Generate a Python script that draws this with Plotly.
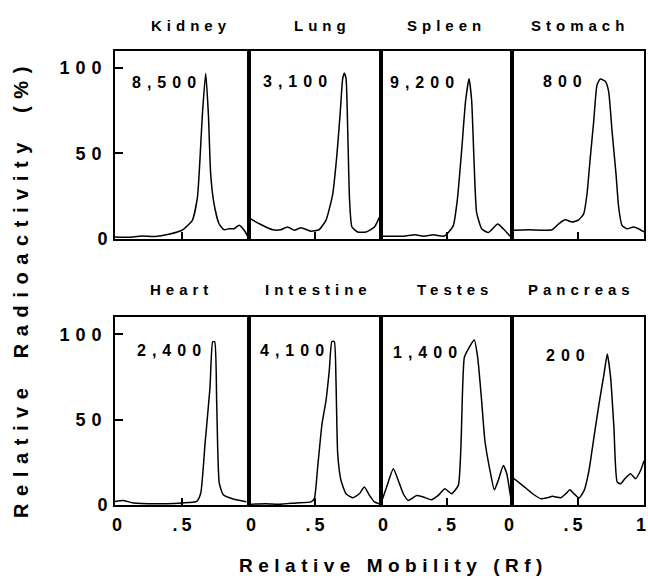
import plotly.graph_objects as go
from plotly.subplots import make_subplots

# ---------------- data ----------------
ORGANS = ["Kidney", "Lung", "Spleen", "Stomach", "Heart", "Intestine", "Testes", "Pancreas"]
COUNTS = ["8,500", "3,100", "9,200", "800", "2,400", "4,100", "1,400", "200"]

kidney_rf = [0, 0.1, 0.2, 0.3, 0.4, 0.5, 0.577, 0.615, 0.632, 0.652, 0.677, 0.697, 0.714, 0.739, 0.776, 0.814, 0.85, 0.889, 0.926, 0.964, 1.0]
kidney_pct = [1, 0.8, 1.5, 1.2, 2.5, 4.9, 10.7, 24, 43.6, 72.7, 96.9, 72.7, 37.8, 20.3, 8.7, 5.2, 5.8, 5.8, 7.8, 4.9, 0]

lung_rf = [0, 0.078, 0.18, 0.24, 0.293, 0.343, 0.394, 0.47, 0.53, 0.583, 0.634, 0.664, 0.69, 0.71, 0.722, 0.735, 0.748, 0.762, 0.78, 0.823, 0.886, 0.95, 0.99, 1.0]
lung_pct = [12.2, 8.7, 5.2, 5.2, 6.8, 4.9, 6.4, 4.3, 5.2, 10.7, 26, 47.5, 72.7, 94, 97, 94, 63, 22.3, 6.8, 3.9, 3.9, 6.8, 12.8, 14.7]

spleen_rf = [0, 0.17, 0.26, 0.325, 0.4, 0.48, 0.514, 0.552, 0.583, 0.616, 0.646, 0.672, 0.692, 0.71, 0.73, 0.77, 0.82, 0.891, 0.935, 0.985]
spleen_pct = [1.4, 1.4, 2.2, 1.4, 2.2, 1.4, 3.6, 7.6, 23, 52, 81, 93.8, 81, 46, 15.3, 5.6, 3.6, 8.5, 5.6, 1.4]

stomach_rf = [0, 0.126, 0.303, 0.354, 0.404, 0.455, 0.505, 0.543, 0.568, 0.593, 0.619, 0.644, 0.669, 0.707, 0.732, 0.758, 0.788, 0.808, 0.833, 0.871, 0.922, 0.972, 1.0]
stomach_pct = [4.9, 5.2, 5.2, 8.7, 11, 9.7, 11, 14.5, 26, 47.5, 68.8, 90.1, 93.6, 92.2, 86.3, 63, 37.8, 18.4, 7.8, 5.8, 6.8, 5.2, 3.9]

heart_rf = [0, 0.06, 0.137, 0.386, 0.5, 0.61, 0.64, 0.672, 0.709, 0.729, 0.744, 0.759, 0.778, 0.808, 0.883, 0.98]
heart_pct = [2.1, 2.7, 1.2, 0.8, 1.2, 2.1, 7, 36, 69, 95.7, 95.7, 59.6, 12.9, 6, 3.5, 1.9]

intestine_rf = [0, 0.13, 0.23, 0.356, 0.47, 0.495, 0.52, 0.553, 0.583, 0.608, 0.628, 0.646, 0.659, 0.672, 0.697, 0.735, 0.785, 0.836, 0.874, 0.912, 0.95, 1.0]
intestine_pct = [0.4, 0.8, 0.4, 1.2, 1.8, 3.7, 22, 47.5, 61, 78.7, 95.9, 95.9, 72.9, 30, 14.4, 6.6, 4.3, 6.6, 10.5, 5.7, 1.8, 0.4]

testes_rf = [0, 0.043, 0.094, 0.132, 0.17, 0.208, 0.272, 0.323, 0.386, 0.437, 0.488, 0.539, 0.59, 0.61, 0.636, 0.666, 0.712, 0.738, 0.768, 0.793, 0.832, 0.865, 0.895, 0.934, 0.96, 0.997]
testes_pct = [0.8, 10.5, 21.2, 14.4, 6.6, 2.7, 5.6, 4.7, 3.1, 5.6, 9.5, 6.6, 11.5, 33.9, 86.5, 91.4, 96.7, 86.5, 61.2, 37.8, 20.2, 8.9, 14.4, 23.2, 18.3, 0.8]

pancreas_rf = [0, 0.08, 0.156, 0.219, 0.269, 0.307, 0.37, 0.408, 0.438, 0.47, 0.508, 0.546, 0.583, 0.621, 0.659, 0.697, 0.722, 0.747, 0.772, 0.797, 0.823, 0.855, 0.898, 0.936, 0.974, 1.0]
pancreas_pct = [16.4, 11.5, 6.6, 3.7, 4.3, 5.1, 4.3, 6.6, 8.9, 6.6, 4.1, 8.4, 20.2, 39.8, 59.2, 76.8, 88.5, 74.8, 45.6, 13.4, 12.5, 15.4, 18.3, 15.4, 20.2, 26]

SERIES_RF = [kidney_rf, lung_rf, spleen_rf, stomach_rf, heart_rf, intestine_rf, testes_rf, pancreas_rf]
SERIES_PCT = [kidney_pct, lung_pct, spleen_pct, stomach_pct, heart_pct, intestine_pct, testes_pct, pancreas_pct]

Y_TICK_VALS = [0, 50, 100]
Y_TICK_TEXT = ["0", "50", "100"]
X_TICK_VALS = [0, 0.5, 1]
X_TICK_TEXT = ["0", ".5", "1"]

Y_TITLE = "Relative Radioactivity (%)"
X_TITLE = "Relative Mobility (Rf)"

# ---------------- layout helpers ----------------
FONT = "Liberation Sans, Arial, Helvetica, sans-serif"
W, H = 648, 584
ML, MR, MT, MB = 115, 4, 51, 79
PW, PH = W - ML - MR, H - MT - MB
COL_EDGES_PX = [115, 249, 381, 512, 644]
COUNT_POS = [(0.114, 91.3), (0.091, 92.3), (0.056, 91.7), (0.217, 92.3),
             (0.149, 90.7), (0.066, 90.3), (0.079, 89.4), (0.242, 87.4)]
TITLE_CX_PX = [188, 320, 444, 577.5, 178.5, 316, 452, 579]
TITLE_CY_PX = [25, 289]


def sp(s, ls, ws=None):
    if len(s) == 1 and ws is None:
        return f"<b>{s}</b>"
    style = f"letter-spacing:{ls}px"
    if ws is not None:
        style += f";word-spacing:{ws}px"
    return f'<b><span style="{style}">{s}</span></b>'


def px_to_paper_x(px):
    return (px - ML) / PW


def px_to_paper_y(py):
    return (H - MB - py) / PH


fig = make_subplots(rows=2, cols=4, horizontal_spacing=0, vertical_spacing=0.1735)

for i in range(8):
    r, c = i // 4 + 1, i % 4 + 1
    fig.add_trace(go.Scatter(x=SERIES_RF[i], y=SERIES_PCT[i], mode="lines",
                             line=dict(color="black", width=1.5, shape="spline", smoothing=0.5),
                             hoverinfo="skip", showlegend=False), row=r, col=c)

tickfont = dict(family=FONT, size=18, color="black", weight="bold")

for i in range(8):
    r, c = i // 4 + 1, i % 4 + 1
    n = "" if i == 0 else str(i + 1)
    dom = [px_to_paper_x(COL_EDGES_PX[c - 1]), px_to_paper_x(COL_EDGES_PX[c])]
    nt = 3 if c == 4 else 2
    fig.layout["xaxis" + n].update(
        domain=dom, range=[0, 1], showline=True, mirror=True, linecolor="black", linewidth=1.6,
        showgrid=False, zeroline=False, ticks="inside", ticklen=7, tickwidth=1.5, tickcolor="black",
        tickvals=X_TICK_VALS[:nt], ticktext=[sp(t, 4) for t in X_TICK_TEXT[:nt]],
        showticklabels=(r == 2), tickfont=tickfont, automargin=False, fixedrange=True,
        ticklabeloverflow="allow", ticklabelstandoff=3,
        ticklabelshift=(-3 if c == 4 else 2))
    yax = dict(range=[0, 110], showline=True, mirror=True, linecolor="black", linewidth=1.6,
               showgrid=False, zeroline=False, automargin=False, fixedrange=True)
    if c == 1:
        yax.update(ticks="inside", ticklen=8, tickwidth=1.5, tickcolor="black",
                   tickvals=Y_TICK_VALS, ticktext=[sp(t, 6) for t in Y_TICK_TEXT],
                   tickfont=tickfont, showticklabels=True, ticklabelstandoff=2)
    else:
        yax.update(ticks="", showticklabels=False)
    fig.layout["yaxis" + n].update(**yax)

annotations = []
for i in range(8):
    r = i // 4
    n = "" if i == 0 else str(i + 1)
    annotations.append(dict(
        text=sp(ORGANS[i], 5), xref="paper", yref="paper",
        x=px_to_paper_x(TITLE_CX_PX[i] + 2.5), y=px_to_paper_y(TITLE_CY_PX[r]),
        xanchor="center", yanchor="middle", showarrow=False,
        font=dict(family=FONT, size=15, color="black", weight="bold")))
    annotations.append(dict(
        text=sp(COUNTS[i], 6), xref="x" + n, yref="y" + n,
        x=COUNT_POS[i][0], y=COUNT_POS[i][1], xanchor="left", yanchor="middle", showarrow=False,
        font=dict(family=FONT, size=16, color="black", weight="bold")))

annotations.append(dict(
    text=sp(Y_TITLE, 7.6, 9), xref="paper", yref="paper",
    x=px_to_paper_x(21), y=px_to_paper_y(289), textangle=-90,
    xanchor="center", yanchor="middle", showarrow=False,
    font=dict(family=FONT, size=20, color="black", weight="bold")))
annotations.append(dict(
    text=sp(X_TITLE, 5.5), xref="paper", yref="paper",
    x=px_to_paper_x(393.5), y=px_to_paper_y(565),
    xanchor="center", yanchor="middle", showarrow=False,
    font=dict(family=FONT, size=19, color="black", weight="bold")))

fig.update_layout(
    template="none", width=W, height=H,
    margin=dict(l=ML, r=MR, t=MT, b=MB, autoexpand=False),
    paper_bgcolor="white", plot_bgcolor="white", showlegend=False,
    annotations=annotations,
)

fig.write_html("out.html", config={"displayModeBar": False})
